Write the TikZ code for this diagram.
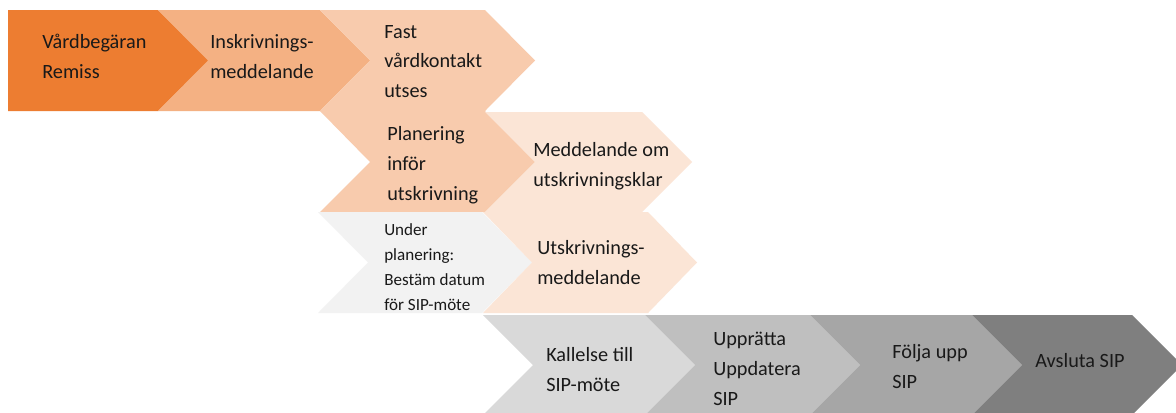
\documentclass[tikz,border=0pt]{standalone}
\usepackage{fontspec}
\setmainfont{Carlito}
\definecolor{orangeA}{HTML}{ED7D31}
\definecolor{orangeB}{HTML}{F4B183}
\definecolor{orangeC}{HTML}{F8CBAD}
\definecolor{orangeD}{HTML}{FBE5D6}
\definecolor{greyA}{HTML}{F2F2F2}
\definecolor{greyB}{HTML}{D9D9D9}
\definecolor{greyC}{HTML}{BFBFBF}
\definecolor{greyD}{HTML}{A6A6A6}
\definecolor{greyE}{HTML}{7F7F7F}

\begin{document}
\begin{tikzpicture}
	[%
	x=0.75pt, y=-0.75pt,%
	txt/.style  ={anchor=base west,	align=left,	inner sep=0pt,	text=black!90,	font=\fontsize{15.2}{22.3}\selectfont},%
	small/.style={txt,	font=\fontsize{12.8}{18.75}\selectfont},%
	]

	\useasboundingbox (0,0) rectangle (1176,412);
	\fill[white] (0,0) rectangle (1176,412);
	\clip (0,0) rectangle (1176,412);

	% chevrons
	\fill[orangeA] (8,10) -- (158,10) -- (209,60.5) -- (158,111) -- (8,111) -- cycle;
	\fill[orangeB] (158,10) -- (320,10) -- (370,60.5) -- (320,111) -- (158,111) -- (208,60.5) -- cycle;
	\fill[orangeC] (320,10) -- (485,10) -- (535,60.5) -- (485,111) -- (320,111) -- (370,60.5) -- cycle;

	\fill[orangeC] (320,111) -- (485,111) -- (535,162) -- (485,212) -- (320,212) -- (370,162) -- cycle;
	\fill[orangeD] (485,112) -- (642,112) -- (692,162) -- (642,212) -- (485,212) -- (535,162) -- cycle;

	\fill[greyA]   (318,212) -- (482,212) -- (532,262.5) -- (482,313) -- (318,313) -- (368,262.5) -- cycle;
	\fill[orangeD] (483,212) -- (648,212) -- (697,262.5) -- (648,313) -- (483,313) -- (532,262.5) -- cycle;

	\foreach \a/\b/\c in {483/645/greyB, 645/810/greyC, 810/972/greyD, 972/1132/greyE}
		\fill[\c] (\a,315) -- (\b,315) -- (\b+50,365) -- (\b,415) -- (\a,415) -- (\a+50,365) -- cycle;

	% texts (placed at the baseline of their last line)
	\node (vard)  at (42,78)    [txt] {Vårdbegäran\\Remiss};
	\node (inskr) at (210,78)   [txt] {Inskrivnings-\\meddelande};
	\node (fast)  at (384,97.5) [txt] {Fast\\vårdkontakt\\utses};
	\node (plan)  at (387,200)  [txt] {Planering\\inför\\utskrivning};
	\node (medd)  at (533,186)  [txt] {Meddelande om\\utskrivningsklar};
	\node (under) at (384,310)  [small] {Under\\planering:\\Bestäm datum\\för SIP-möte};
	\node (utskr) at (537,284)  [txt] {Utskrivnings-\\meddelande};

	\node (kall)  at (546,391)  [txt] {Kallelse till\\SIP-möte};
	\node (uppr)  at (713,405)  [txt] {Upprätta\\Uppdatera\\SIP};
	\node (folja) at (892,388)  [txt] {Följa upp\\SIP};
	\node (avsl)  at (1035,367) [txt] {Avsluta SIP};

\end{tikzpicture}
\end{document}
